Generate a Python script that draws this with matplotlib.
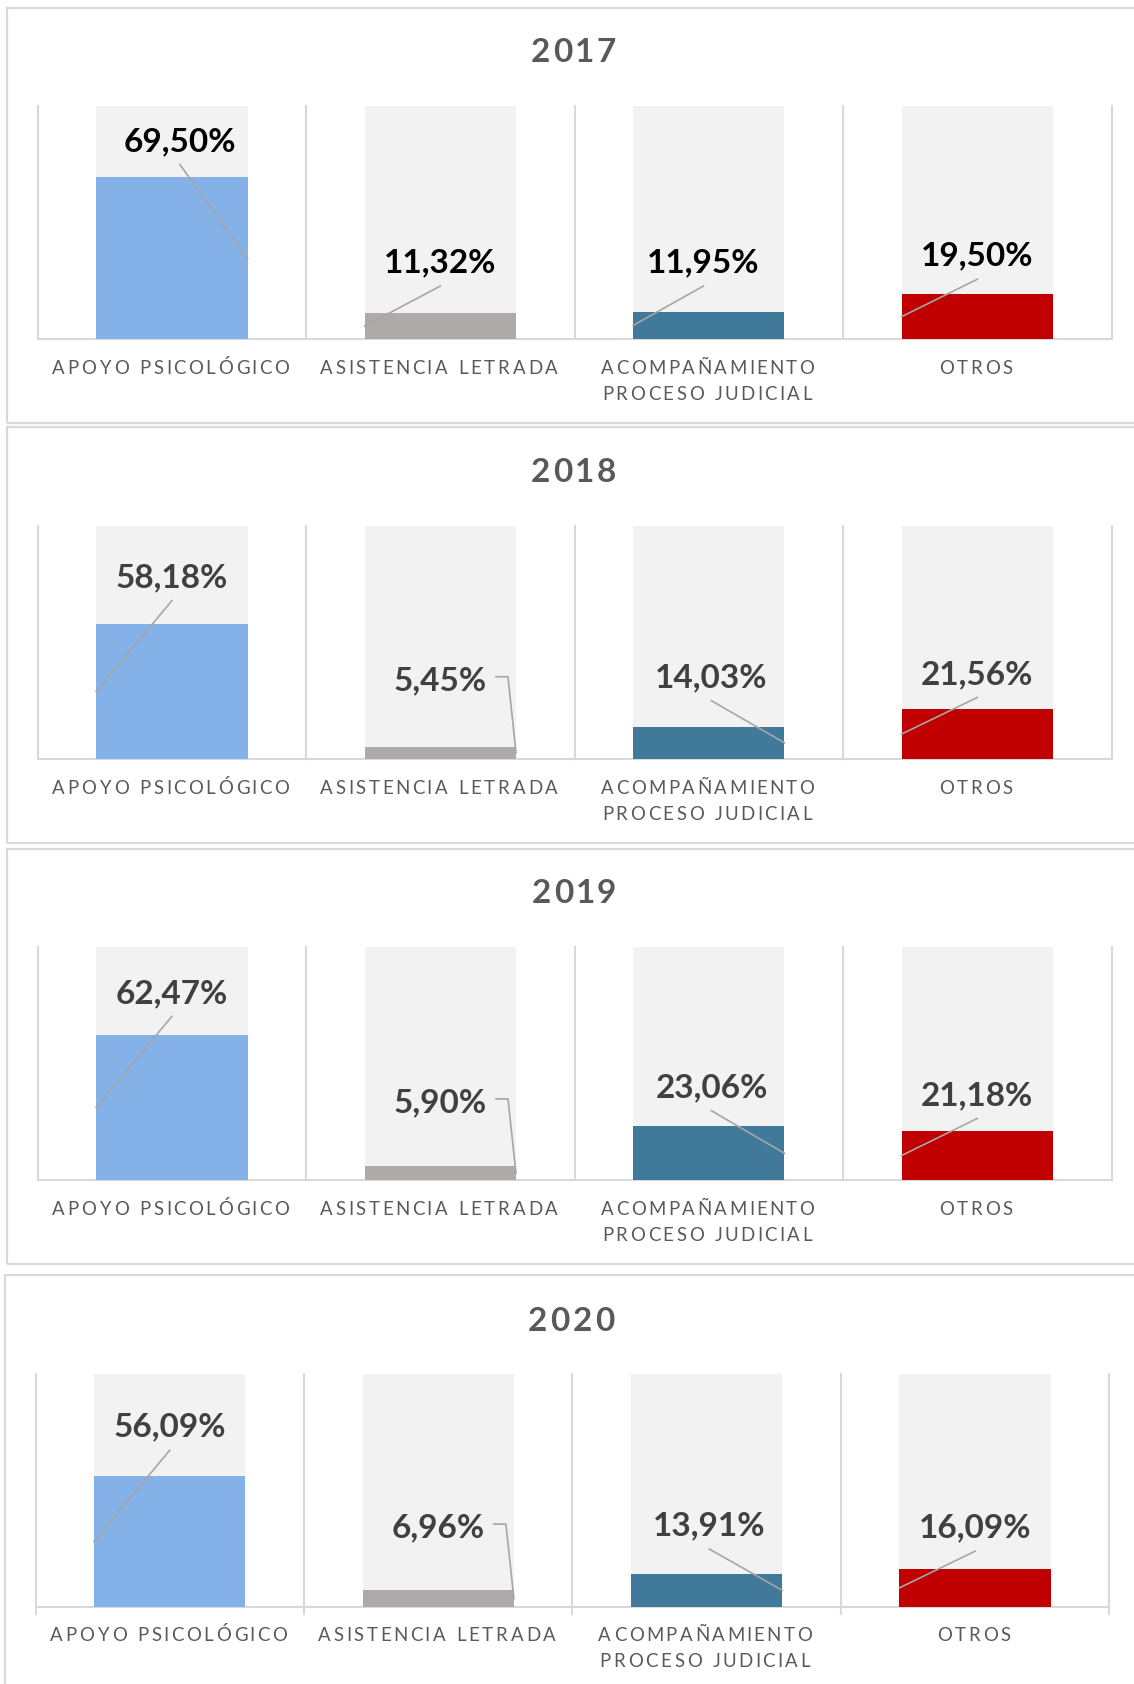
import matplotlib
matplotlib.use("Agg")
import matplotlib.pyplot as plt
from matplotlib.patches import Rectangle
from matplotlib.font_manager import FontProperties, findfont
from matplotlib.ft2font import FT2Font
try:
    from matplotlib.ft2font import LoadFlags
    NOHINT = LoadFlags.NO_HINTING
except Exception:  # older matplotlib
    from matplotlib import ft2font as _ft
    NOHINT = _ft.LOAD_NO_HINTING

# ---------------- data ----------------
years = ["2017", "2018", "2019", "2020"]
categories = ["APOYO PSICOLÓGICO", "ASISTENCIA LETRADA",
              "ACOMPAÑAMIENTO\nPROCESO JUDICIAL", "OTROS"]
values_2017 = [69.50, 11.32, 11.95, 19.50]
values_2018 = [58.18, 5.45, 14.03, 21.56]
values_2019 = [62.47, 5.90, 23.06, 21.18]
values_2020 = [56.09, 6.96, 13.91, 16.09]
values = [values_2017, values_2018, values_2019, values_2020]
background_value = 100

# ---------------- styles / label placement ----------------
bar_colors = ["#85B1E9", "#AEAAAA", "#41799A", "#C00000"]
bg_color = "#F2F2F2"
grid_color = "#D9D9D9"
leader_color = "#A6A6A6"
title_color = "#595959"
cat_color = "#595959"
label_colors = ["#000000", "#404040", "#404040", "#404040"]

# label centre (y in % units) and x offset (category units)
label_y = [[85.8, 33.7, 33.7, 36.6],
           [78.8, 34.6, 35.9, 37.3],
           [81.1, 34.1, 40.6, 37.3],
           [77.9, 34.6, 35.5, 34.6]]
label_dx = [[0.03, 0.0, -0.02, 0.0],
            [0.0, 0.0, 0.01, 0.0],
            [0.0, 0.0, 0.01, 0.0],
            [0.0, 0.0, 0.01, 0.0]]
# leader anchor: R = right edge mid, L = left edge mid, E = elbow to right edge
leader_kind = [["R", "L", "L", "L"],
               ["L", "E", "R", "L"],
               ["L", "E", "R", "L"],
               ["L", "E", "R", "L"]]

W, H, DPI = 1134, 1684, 100
fig = plt.figure(figsize=(W / DPI, H / DPI), dpi=DPI)
fig.patch.set_facecolor("white")

# panel geometry in pixels (from top-left)
panel_boxes = [(7, 7.5, 1150, 422.5), (7, 427.3, 1150, 842.7),
               (7, 849.0, 1150, 1263.7), (5.3, 1274.7, 1150, 1700)]
ax_lr = [(37.6, 1111.5), (37.6, 1111.5), (37.6, 1111.5), (35.5, 1109.4)]
ax_tb = [(106.3, 339.4), (526.2, 759.2), (947.2, 1180.2), (1373.6, 1606.6)]
title_xy = [(573.5, 50.5), (573.5, 470.4), (573.5, 891.3), (571.3, 1318.8)]
bar_width = 0.564

def fx(x):
    return x / W

def fy(y):
    return 1 - y / H

def glyph_metrics(s, prop, a):
    """(effective width, ink offset) per char; a=1 pen-based, a=0 ink-based."""
    font = FT2Font(findfont(prop))
    font.set_size(prop.get_size_in_points(), DPI)
    out = []
    for ch in s:
        g = font.load_char(ord(ch), flags=NOHINT)
        adv = g.linearHoriAdvance / 65536
        if ch == " ":
            out.append((adv, 0.0, 0.0))
        else:
            w = g.width / 64
            bx = g.horiBearingX / 64
            out.append((a * adv + (1 - a) * w, a * bx, bx))
    return out

def gap_for(s, prop, target, a):
    m = glyph_metrics(s, prop, a)
    return (target - sum(e for e, _, _ in m)) / (len(s) - 1)

def spaced_text(s, cx, base_y, prop, gap, color, a):
    m = glyph_metrics(s, prop, a)
    total = sum(e for e, _, _ in m) + gap * (len(s) - 1)
    cursor = cx - total / 2
    for ch, (e, off, bx) in zip(s, m):
        if ch != " ":
            # ink starts at cursor + off; the text is placed at its pen origin
            fig.text(fx(cursor + off - bx), fy(base_y), ch, fontproperties=prop,
                     ha="left", va="baseline", color=color)
        cursor += e + gap

CAT_A = 0.5
TITLE_A = 0.0
cat_prop = FontProperties(family="Lato", size=13.4)
title_prop = FontProperties(family="Lato", size=24, weight="bold")
cat_gap = gap_for(categories[0], cat_prop, 237, CAT_A)
title_gap = gap_for(years[0], title_prop, 82, TITLE_A)

# panel borders
for (x0, y0, x1, y1) in panel_boxes:
    fig.patches.append(Rectangle((fx(x0), fy(y1)), fx(x1) - fx(x0), fy(y0) - fy(y1),
                                 transform=fig.transFigure, fill=False,
                                 edgecolor=grid_color, linewidth=1.6))

xs = list(range(len(categories)))
for p in range(4):
    l, r = ax_lr[p]
    t, b = ax_tb[p]
    ax = fig.add_axes([fx(l), fy(b), fx(r) - fx(l), fy(t) - fy(b)])
    ax.set_xlim(-0.5, 3.5)
    ax.set_ylim(0, 100)
    ax.axis("off")
    # grid / axis lines
    for gx in [-0.5, 0.5, 1.5, 2.5, 3.5]:
        lo = -3 if p == 3 else 0
        ax.plot([gx, gx], [lo, 100], color=grid_color, lw=1.5, clip_on=False, zorder=1)
    ax.plot([-0.5, 3.5], [0, 0], color=grid_color, lw=1.5, clip_on=False, zorder=1)
    ax.bar(xs, [background_value] * 4, width=bar_width, color=bg_color, zorder=2)
    ax.bar(xs, values[p], width=bar_width, color=bar_colors, zorder=3)

    for i, v in enumerate(values[p]):
        lx = i + label_dx[p][i]
        ly = label_y[p][i]
        txt = f"{v:.2f}%".replace(".", ",")
        ax.text(lx, ly - 5.0, txt, ha="center", va="baseline", family="Lato",
                fontweight="bold", fontsize=24, color=label_colors[p], zorder=6)
        kind = leader_kind[p][i]
        mid = v / 2
        if kind == "E":
            ex = i + bar_width / 2
            ax.plot([lx + 0.207, lx + 0.252, ex], [ly + 0.8, ly + 0.8, mid],
                    color=leader_color, lw=1.2, zorder=5, clip_on=False)
        else:
            ex = i + bar_width / 2 if kind == "R" else i - bar_width / 2
            ax.plot([lx, ex], [ly - 10.8, mid], color=leader_color, lw=1.2,
                    zorder=5, clip_on=False)

    # title
    tx, ty = title_xy[p]
    spaced_text(years[p], tx, ty + 12, title_prop, title_gap, title_color, TITLE_A)

    # category labels
    for i, c in enumerate(categories):
        cx = l + (r - l) * (i + 0.5) / 4 - 1.5
        for k, line in enumerate(c.split("\n")):
            spaced_text(line, cx, b + 34.6 + 26 * k, cat_prop, cat_gap, cat_color, CAT_A)

fig.savefig("out.png", dpi=DPI, facecolor="white")
